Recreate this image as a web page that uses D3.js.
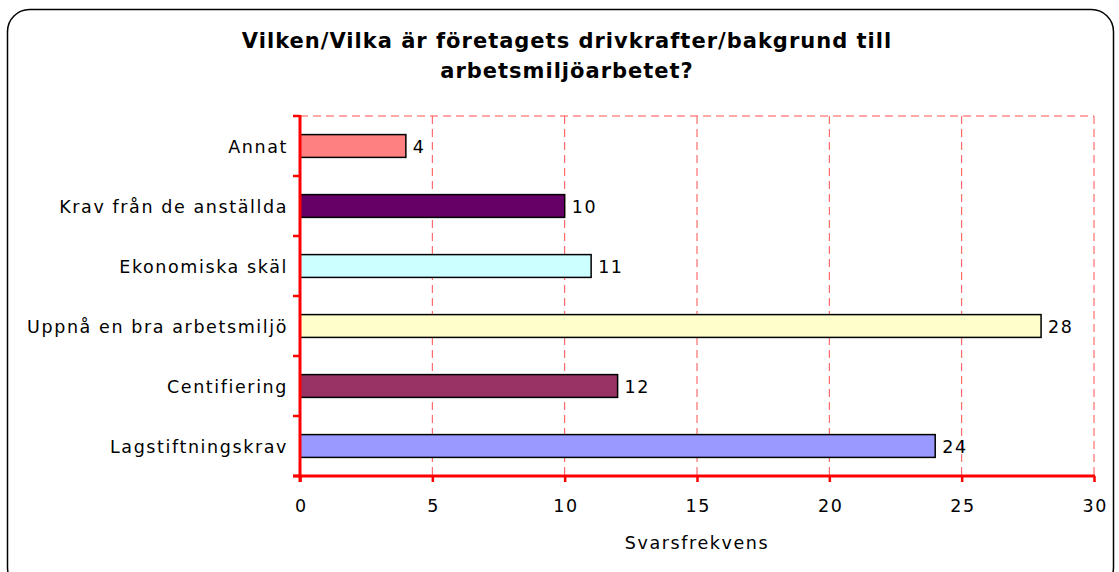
<!DOCTYPE html>
<html>
<head>
<meta charset="utf-8">
<script src="https://cdn.jsdelivr.net/npm/d3@7"></script>
<style>
  body { margin: 0; background: #fff; }
  text { font-family: "DejaVu Sans", Verdana, sans-serif; }
</style>
</head>
<body>
<svg id="chart" width="1119" height="572"></svg>
<script>
// chart data
const categories = ["Annat", "Krav från de anställda", "Ekonomiska skäl", "Uppnå en bra arbetsmiljö", "Centifiering", "Lagstiftningskrav"];
const values = [4, 10, 11, 28, 12, 24];
const barColors = ["#ff8080", "#660066", "#ccffff", "#ffffcc", "#993366", "#9999ff"];
const xTicks = [0, 5, 10, 15, 20, 25, 30];
const titleLines = ["Vilken/Vilka är företagets drivkrafter/bakgrund till", "arbetsmiljöarbetet?"];
const xLabel = "Svarsfrekvens";

const svg = d3.select("#chart");
const plot = { left: 300, right: 1094, top: 116, bottom: 476 };
const fs = 17.5, ls = 1.6;

// outer frame
svg.append("rect")
    .attr("x", 7.5).attr("y", 9.5)
    .attr("width", 1106).attr("height", 580)
    .attr("rx", 22).attr("ry", 22)
    .attr("fill", "#fff")
    .attr("stroke", "#000")
    .attr("stroke-width", 1.5);

svg.selectAll(".title")
    .data(titleLines)
    .enter().append("text")
    .attr("class", "title")
    .attr("x", 567)
    .attr("y", (d, i) => 48 + i * 30)
    .attr("text-anchor", "middle")
    .attr("font-size", 21)
    .attr("font-weight", "bold")
    .attr("letter-spacing", 1.0)
    .text(d => d);

const x = d3.scaleLinear().domain([0, 30]).range([plot.left, plot.right]);
const y = d3.scaleBand().domain(categories).range([plot.top, plot.bottom]).paddingInner(0.62).paddingOuter(0.31);
const yTicks = d3.scaleBand().domain(categories).range([plot.top, plot.bottom]);

// grid
svg.append("g")
    .selectAll("line")
    .data(xTicks.slice(1))
    .enter().append("line")
    .attr("x1", d => x(d)).attr("x2", d => x(d))
    .attr("y1", plot.top).attr("y2", plot.bottom)
    .attr("stroke", "#ff5050")
    .attr("stroke-width", 1)
    .attr("stroke-dasharray", "8,5");

svg.append("line")
    .attr("x1", plot.left).attr("x2", plot.right)
    .attr("y1", plot.top).attr("y2", plot.top)
    .attr("stroke", "#ff5050")
    .attr("stroke-width", 1)
    .attr("stroke-dasharray", "8,5");

// bars
svg.append("g")
    .selectAll("rect")
    .data(categories)
    .enter().append("rect")
    .attr("x", x(0))
    .attr("y", d => y(d))
    .attr("width", (d, i) => x(values[i]) - x(0))
    .attr("height", y.bandwidth())
    .attr("fill", (d, i) => barColors[i])
    .attr("stroke", "#000")
    .attr("stroke-width", 1.5);

svg.append("g")
    .selectAll("text")
    .data(categories)
    .enter().append("text")
    .attr("x", (d, i) => x(values[i]) + 7)
    .attr("y", d => y(d) + y.bandwidth() / 2 + 7)
    .attr("font-size", fs)
    .attr("letter-spacing", ls)
    .text((d, i) => values[i]);

// y axis labels
svg.append("g")
    .selectAll("text")
    .data(categories)
    .enter().append("text")
    .attr("x", plot.left - 12)
    .attr("y", d => yTicks(d) + yTicks.bandwidth() / 2 + 7)
    .attr("text-anchor", "end")
    .attr("font-size", fs)
    .attr("letter-spacing", ls)
    .text(d => d);

const yTickPos = [plot.top].concat(categories.map(c => yTicks(c) + yTicks.bandwidth()));
svg.append("g")
    .selectAll("line")
    .data(yTickPos)
    .enter().append("line")
    .attr("x1", plot.left - 7).attr("x2", plot.left)
    .attr("y1", d => d).attr("y2", d => d)
    .attr("stroke", "red").attr("stroke-width", 2.5);

svg.append("line")
    .attr("x1", plot.left).attr("x2", plot.left)
    .attr("y1", plot.top - 1).attr("y2", plot.bottom + 6)
    .attr("stroke", "red").attr("stroke-width", 3);

// x axis
const xAxis = svg.append("g")
    .attr("transform", `translate(0,${plot.bottom})`)
    .call(d3.axisBottom(x).tickValues(xTicks).tickSize(6).tickPadding(18));
xAxis.select(".domain").remove();
xAxis.selectAll("line").attr("stroke", "red").attr("stroke-width", 2.5);
xAxis.selectAll("text")
    .attr("font-size", fs)
    .attr("letter-spacing", ls)
    .attr("dx", ls / 2)
    .attr("fill", "#000");

svg.append("line")
    .attr("x1", plot.left - 7).attr("x2", plot.right + 1)
    .attr("y1", plot.bottom).attr("y2", plot.bottom)
    .attr("stroke", "red").attr("stroke-width", 3);

svg.append("text")
    .attr("x", 697)
    .attr("y", 549)
    .attr("text-anchor", "middle")
    .attr("font-size", fs)
    .attr("letter-spacing", ls)
    .text(xLabel);
</script>
</body>
</html>
